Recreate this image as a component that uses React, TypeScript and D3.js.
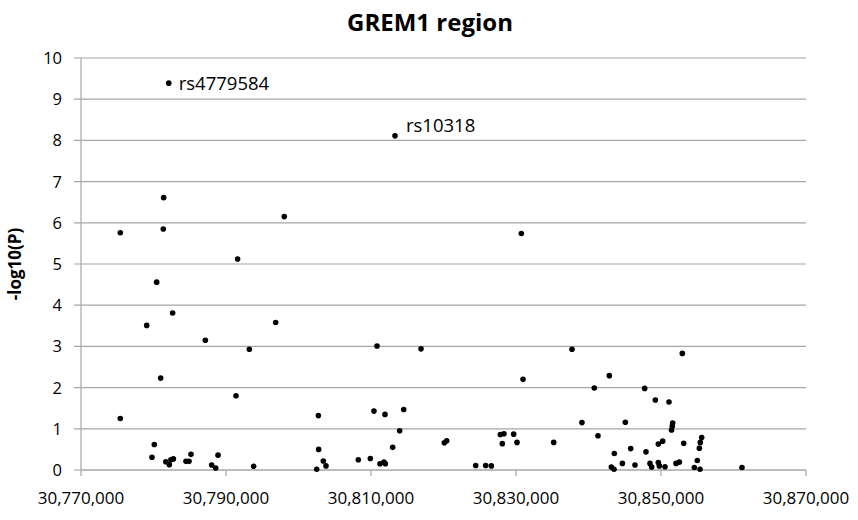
import React from "react";
import * as d3 from "d3";

const positions: number[] = [
  30782100, 30813310, 30781400, 30775420, 30781350, 30798040, 30791600, 30780440,
  30782640, 30779060, 30796850, 30787150, 30793220, 30780990, 30791380, 30775420,
  30780110, 30779790, 30781700, 30782180, 30782400, 30782740, 30784480, 30784900,
  30785170, 30788020, 30788580, 30788900, 30793820, 30830735, 30810830, 30816900,
  30830970, 30802740, 30810410, 30811930, 30814510, 30813950, 30812990, 30802780,
  30803420, 30803790, 30802510, 30808250, 30809910, 30811240, 30811790, 30811980,
  30820115, 30820440, 30824440, 30825820, 30826600, 30827840, 30828340, 30828110,
  30829680, 30830140, 30835200, 30837720, 30852940, 30842870, 30840800, 30847750,
  30849220, 30851100, 30839100, 30845080, 30851610, 30851550, 30851450, 30841310,
  30849630, 30850230, 30853130, 30855610, 30855420, 30855290, 30843560, 30845820,
  30847930, 30855010, 30843150, 30843520, 30844670, 30846410, 30848480, 30848710,
  30849630, 30849770, 30850550, 30852070, 30852530, 30854600, 30855380, 30861170,
];

const logP: number[] = [
  9.39, 8.11, 6.61, 5.76, 5.85, 6.15, 5.12, 4.56,
  3.81, 3.51, 3.58, 3.15, 2.93, 2.23, 1.8, 1.25,
  0.62, 0.31, 0.2, 0.13, 0.25, 0.27, 0.21, 0.21,
  0.38, 0.12, 0.05, 0.36, 0.09, 5.74, 3.01, 2.94,
  2.2, 1.32, 1.43, 1.35, 1.47, 0.95, 0.55, 0.5,
  0.22, 0.1, 0.02, 0.25, 0.28, 0.15, 0.19, 0.15,
  0.66, 0.71, 0.11, 0.11, 0.1, 0.86, 0.88, 0.64,
  0.87, 0.67, 0.67, 2.93, 2.83, 2.29, 1.99, 1.98,
  1.7, 1.65, 1.15, 1.16, 1.14, 1.06, 0.97, 0.83,
  0.63, 0.7, 0.65, 0.79, 0.67, 0.53, 0.4, 0.52,
  0.44, 0.23, 0.07, 0.02, 0.16, 0.12, 0.16, 0.07,
  0.18, 0.1, 0.08, 0.16, 0.19, 0.06, 0.02, 0.06,
];

const labelNames: string[] = ["rs4779584", "rs10318"];
const labelPositions: number[] = [30782100, 30813310];
const labelValues: number[] = [9.39, 8.11];

const xTicks: number[] = [30770000, 30790000, 30810000, 30830000, 30850000, 30870000];
const yTicks: number[] = [0, 1, 2, 3, 4, 5, 6, 7, 8, 9, 10];

const titleText = "GREM1 region";
const yAxisTitle = "-log10(P)";

const W = 858;
const H = 520;
const left = 81;
const right = 806;
const top = 58;
const bottom = 470;
const font = "'Open Sans', sans-serif";
const gridColor = "#a6a6a6";

export default function App() {
  const x = d3.scaleLinear().domain([30770000, 30870000]).range([left, right]);
  const y = d3.scaleLinear().domain([0, 10]).range([bottom, top]);
  const fmt = d3.format(",");
  const labelOffsets = [
    { dx: 10, dy: 7 },
    { dx: 11, dy: -4 },
  ];

  return (
    <svg
      width={W}
      height={H}
      style={{ position: "absolute", left: 0, top: 0, background: "#fff" }}
      fontFamily={font}
    >
      <rect x={0} y={0} width={W} height={H} fill="#fff" />
      <text x={430} y={31} textAnchor="middle" fontSize={24} fontWeight="bold" fill="#000">
        {titleText}
      </text>

      {yTicks.map((t) => (
        <g key={"y" + t}>
          <line x1={left - 7} x2={right} y1={y(t)} y2={y(t)} stroke={gridColor} strokeWidth={1.2} />
          <text x={left - 19} y={y(t) + 6} textAnchor="end" fontSize={16.5} fill="#000">
            {t}
          </text>
        </g>
      ))}

      <line x1={left} x2={left} y1={top} y2={bottom} stroke={gridColor} strokeWidth={1.2} />
      <line x1={left} x2={right} y1={bottom} y2={bottom} stroke={gridColor} strokeWidth={1.2} />

      {xTicks.map((t) => (
        <g key={"x" + t}>
          <line x1={x(t)} x2={x(t)} y1={bottom} y2={bottom + 6} stroke={gridColor} strokeWidth={1.2} />
          <text x={x(t)} y={504} textAnchor="middle" fontSize={17} fill="#000">
            {fmt(t)}
          </text>
        </g>
      ))}

      <text
        transform={`translate(21, ${(top + bottom) / 2}) rotate(-90)`}
        textAnchor="middle"
        fontSize={17}
        fontWeight="bold"
        fill="#000"
      >
        {yAxisTitle}
      </text>

      {positions.map((p, i) => (
        <circle key={"p" + i} cx={x(p)} cy={y(logP[i])} r={2.8} fill="#000" />
      ))}

      {labelNames.map((n, i) => (
        <text
          key={n}
          x={x(labelPositions[i]) + labelOffsets[i].dx}
          y={y(labelValues[i]) + labelOffsets[i].dy}
          fontSize={18.5}
          fill="#000"
        >
          {n}
        </text>
      ))}
    </svg>
  );
}
